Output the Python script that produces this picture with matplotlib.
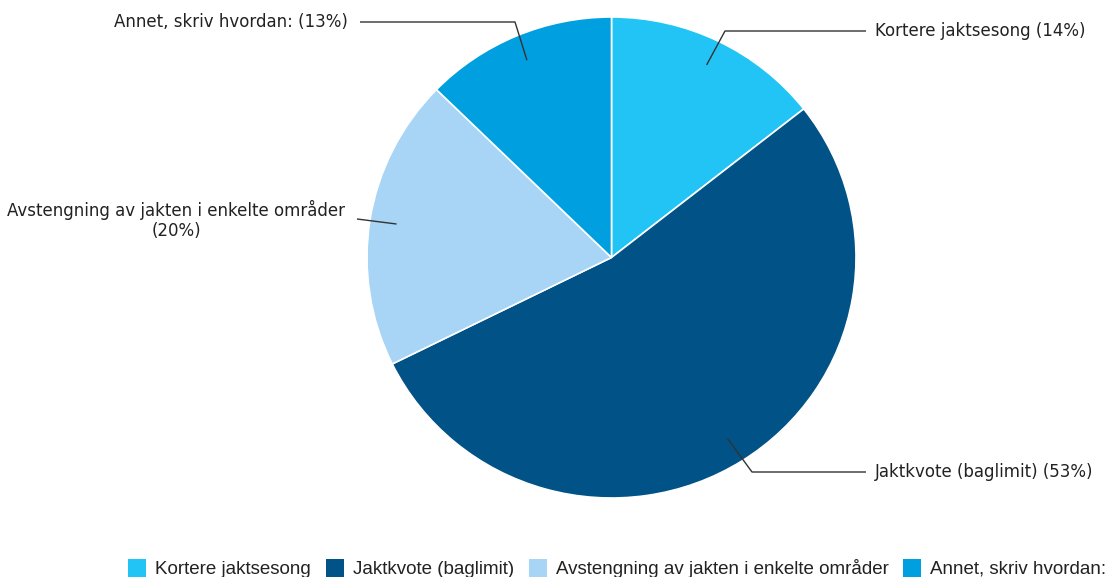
import matplotlib
matplotlib.use("Agg")
import matplotlib.pyplot as plt
import numpy as np
from matplotlib.patches import Rectangle

categories = ["Kortere jaktsesong", "Jaktkvote (baglimit)",
              "Avstengning av jakten i enkelte områder", "Annet, skriv hvordan:"]
values = [14.4, 53.3, 19.6, 12.7]
label_pct = [14, 53, 20, 13]
colors = ["#22C4F5", "#005287", "#A8D4F5", "#009FE0"]

W, H = 1110, 577
fig = plt.figure(figsize=(W / 100, H / 100), dpi=100)
ax = fig.add_axes([0, 0, 1, 1])
cx, cy, R = 611.5, 257.5, 244.5
k = 240.5 / 244.5  # vertical squash of the reference


def Y(py):
    return -py / k


wedges, _ = ax.pie(values, colors=colors, startangle=90, counterclock=False,
                   center=(cx, Y(cy)), radius=R,
                   wedgeprops=dict(edgecolor="white", linewidth=1.2))
ax.set_xlim(0, W)
ax.set_ylim(Y(H), 0)
ax.set_aspect("auto")
ax.axis("off")

# label layout: (text x, text y, ha, elbow x or None)
layout = [
    (875, 31, "left", 725),
    (875, 472, "left", 752),
    (345, 220, "right", None),
    (348, 22, "right", 515),
]
texts = [f"{c} ({p}%)" for c, p in zip(categories, label_pct)]
texts[2] = f"{categories[2]}\n({label_pct[2]}%)"

for w, txt, (tx, ty, ha, ex) in zip(wedges, texts, layout):
    ang = np.deg2rad((w.theta1 + w.theta2) / 2)
    sx = cx + 0.89 * R * np.cos(ang)
    sy = Y(cy) + 0.89 * R * np.sin(ang)
    end_x = tx - 9 if ha == "left" else tx + 12
    if ex is not None:
        xs = [sx, ex, end_x]
        ys = [sy, Y(ty), Y(ty)]
    else:
        xs = [sx, end_x]
        ys = [sy, Y(ty - 1)]
    ax.plot(xs, ys, color="#333333", lw=1.0, solid_capstyle="butt")
    ax.text(tx, Y(ty), txt, ha=ha, va="center", fontsize=12,
            color="#222222", family="DejaVu Sans",
            multialignment="center", linespacing=1.2)

# legend
leg_x = [128, 326, 529, 903]
for x, c, lab in zip(leg_x, colors, categories):
    ax.add_patch(Rectangle((x, Y(577)), 18, 18 / k, facecolor=c,
                           edgecolor="none", clip_on=True))
    ax.text(x + 27, Y(574), lab, ha="left", va="baseline", fontsize=13.5,
            color="#222222", family="Liberation Sans")

fig.savefig("out.png", dpi=100)
